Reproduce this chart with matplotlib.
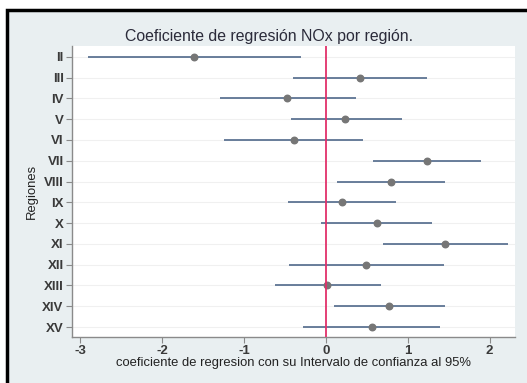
import matplotlib.pyplot as plt
import matplotlib.patches as patches

# Coeficientes y sus intervalos de confianza al 95% por region
regions = ['II', 'III', 'IV', 'V', 'VI', 'VII', 'VIII', 'IX', 'X', 'XI',
           'XII', 'XIII', 'XIV', 'XV']
coef = [-1.61, 0.42, -0.47, 0.24, -0.39, 1.23, 0.80, 0.20, 0.62, 1.46,
        0.49, 0.02, 0.77, 0.56]
ci_low = [-2.91, -0.40, -1.29, -0.43, -1.24, 0.58, 0.14, -0.46, -0.06, 0.70,
          -0.45, -0.62, 0.10, -0.28]
ci_high = [-0.30, 1.24, 0.37, 0.93, 0.45, 1.90, 1.45, 0.86, 1.30, 2.23,
           1.44, 0.67, 1.45, 1.40]
xticks = [-3, -2, -1, 0, 1, 2]

plt.rcParams['font.family'] = ['Liberation Sans', 'DejaVu Sans']

fig = plt.figure(figsize=(5.27, 3.83), dpi=100)
fig.patch.set_facecolor('white')

# panel background with black frame (scanned figure look)
frame = patches.Rectangle((7 / 527, -0.02), 1.05, 1 - 10 / 383 + 0.02,
                          transform=fig.transFigure, facecolor='#e9eff1',
                          edgecolor='black', linewidth=2.5, zorder=-10)
fig.patches.append(frame)

ax = fig.add_axes([72 / 527, 1 - 337 / 383, (515 - 72) / 527, (337 - 46) / 383])
ax.set_facecolor('white')

ypos = list(range(len(regions)))
for y in ypos:
    ax.axhline(y, color='#f0f0f0', linewidth=0.8, zorder=1)

ax.hlines(ypos, ci_low, ci_high, color='#50698a', linewidth=1.2, zorder=2)
ax.scatter(coef, ypos, s=22, color='#767676', zorder=3)
ax.axvline(0, color='#e2306a', linewidth=1.3, zorder=4)

ax.set_xlim(-3.10, 2.31)
ax.set_ylim(len(regions) - 1 + 0.48, -0.52)
ax.set_xticks(xticks)
ax.set_xticklabels([str(t) for t in xticks], fontsize=9.5, fontweight='bold',
                   color='#3a3a3a')
ax.set_yticks(ypos)
ax.set_yticklabels(regions, fontsize=9.5, fontweight='bold', color='#3a3a3a')

for side in ['top', 'right']:
    ax.spines[side].set_visible(False)
for side in ['left', 'bottom']:
    ax.spines[side].set_color('#8a8a8a')
    ax.spines[side].set_linewidth(1.0)
ax.tick_params(axis='both', direction='out', length=4, width=0.8,
               color='#8a8a8a', pad=2)

ax.set_xlabel('coeficiente de regresion con su Intervalo de confianza al 95%',
              fontsize=9.4, color='#222222', labelpad=0)
ax.set_ylabel('Regiones', fontsize=9.4, color='#222222', labelpad=3)

fig.text(269 / 527, 1 - 36 / 383, 'Coeficiente de regresión NOx por región.',
         ha='center', va='center', fontsize=11.4, color='#2b2b3a')

fig.savefig('out.png', dpi=100)
